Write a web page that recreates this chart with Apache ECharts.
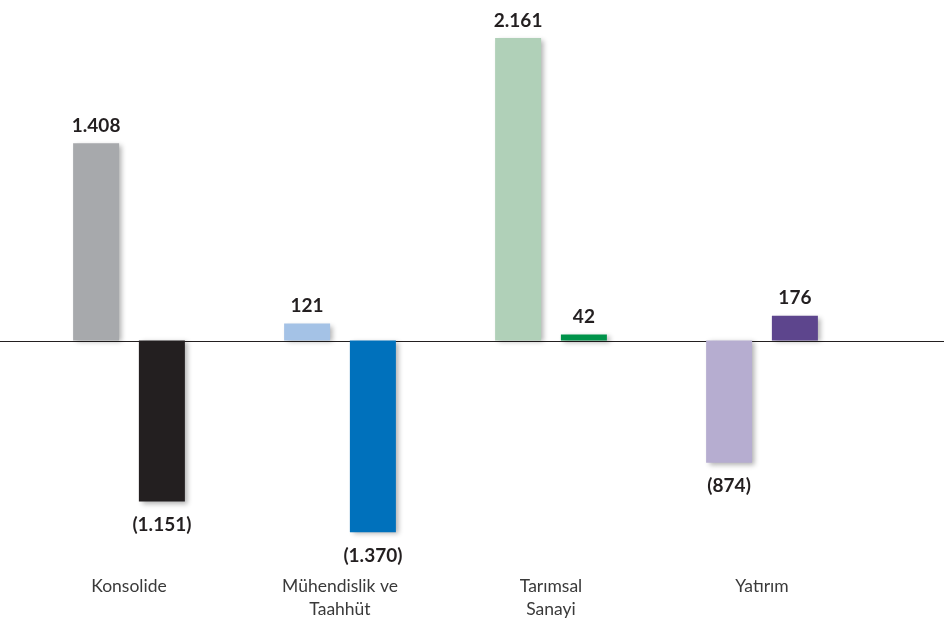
<!DOCTYPE html>
<html>
<head>
<meta charset="utf-8">
<script src="https://cdn.jsdelivr.net/npm/echarts@6/dist/echarts.min.js"></script>
<style>html,body{margin:0;padding:0;background:#fff;}#c{width:944px;height:621px;}</style>
</head>
<body>
<div id="c"></div>
<script>
const categories = ['Konsolide', 'Mühendislik ve\nTaahhüt', 'Tarımsal\nSanayi', 'Yatırım'];
const seriesA = [1408, 121, 2161, -874];
const seriesB = [-1151, -1370, 42, 176];
const colorsA = ['#a7a9ac', '#a4c2e6', '#b0d0b8', '#b6add0'];
const colorsB = ['#231f20', '#0071bc', '#00934a', '#5d458d'];
const yMin = -1640, yMax = 2400;

function fmt(v) {
  const s = Math.abs(v).toString().replace(/\B(?=(\d{3})+(?!\d))/g, '.');
  return v < 0 ? '(' + s + ')' : s;
}
function build(vals, colors) {
  return vals.map((v, i) => ({
    value: v,
    itemStyle: { color: colors[i] },
    label: { position: v < 0 ? 'bottom' : 'top', distance: v < 0 ? 14 : 8 }
  }));
}
const labelStyle = {
  show: true,
  formatter: p => fmt(p.value),
  fontFamily: 'Lato',
  fontWeight: 'bold',
  fontSize: 19,
  color: '#231f20'
};
const itemBase = { shadowBlur: 5, shadowColor: 'rgba(0,0,0,0.3)', shadowOffsetX: 3, shadowOffsetY: 2 };

const chart = echarts.init(document.getElementById('c'));
chart.setOption({
  animation: false,
  backgroundColor: '#fff',
  grid: [
    { left: 23.5, right: 76.5, top: 4.5, bottom: 50 },
    { left: 0, right: 0, top: 4.5, bottom: 50 }
  ],
  xAxis: [
    {
      type: 'category', data: categories, gridIndex: 0,
      axisLine: { show: false, onZero: false }, axisTick: { show: false },
      axisLabel: { fontFamily: 'Lato', fontSize: 17.5, color: '#3a3a3a', lineHeight: 23, margin: 5, interval: 0 }
    },
    {
      type: 'value', gridIndex: 1, min: 0, max: 1,
      axisLine: { show: true, onZero: true, lineStyle: { color: '#231f20', width: 1 } },
      axisTick: { show: false }, axisLabel: { show: false }, splitLine: { show: false }
    }
  ],
  yAxis: [
    { type: 'value', gridIndex: 0, min: yMin, max: yMax, show: false, splitLine: { show: false } },
    { type: 'value', gridIndex: 1, min: yMin, max: yMax, show: false, splitLine: { show: false } }
  ],
  series: [
    { type: 'bar', xAxisIndex: 0, yAxisIndex: 0, barWidth: 46, barGap: '43%', data: build(seriesA, colorsA), label: labelStyle, itemStyle: itemBase },
    { type: 'bar', xAxisIndex: 0, yAxisIndex: 0, barWidth: 46, barGap: '43%', data: build(seriesB, colorsB), label: labelStyle, itemStyle: itemBase }
  ]
});
</script>
</body>
</html>
